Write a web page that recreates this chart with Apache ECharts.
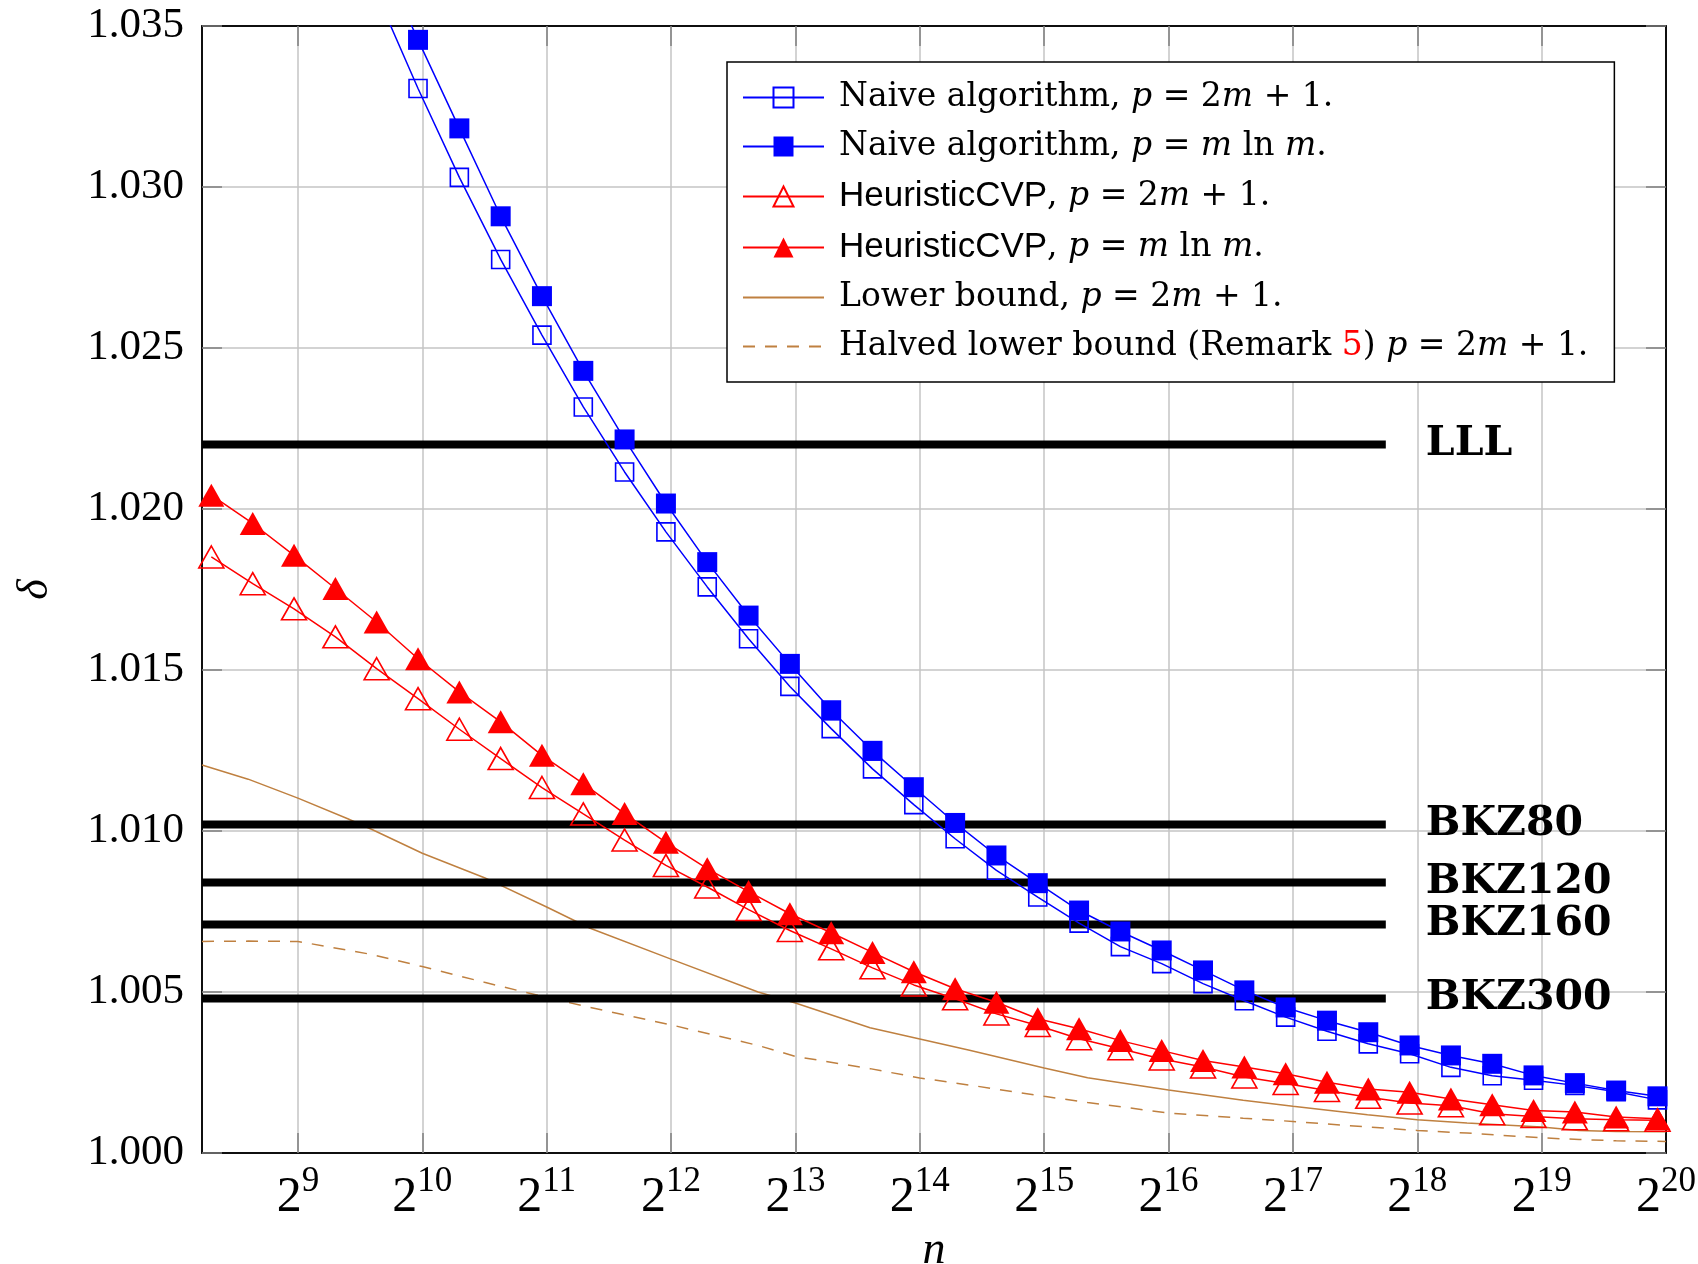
<!DOCTYPE html>
<html>
<head>
<meta charset="utf-8">
<script src="https://cdn.jsdelivr.net/npm/echarts@6/dist/echarts.min.js"></script>
<style>
  html, body { margin: 0; padding: 0; background: #fff; }
  #chart { width: 1698px; height: 1264px; }
</style>
</head>
<body>
<div id="chart"></div>
<script>
// n for the marker series (x axis is log2 n)
const nValues = [316, 398, 501, 631, 794, 1000, 1259, 1585, 1995, 2512, 3162, 3981,
  5012, 6310, 7943, 10000, 12589, 15849, 19953, 25119, 31623, 39811, 50119, 63096,
  79433, 100000, 125893, 158489, 199526, 251189, 316228, 398107, 501187, 630957, 794328, 1000000];

const naive2m1 = [null, null, null, null, 1.0360, 1.03306, 1.03030, 1.02775, 1.02540, 1.02317,
  1.02115, 1.01929, 1.01758, 1.01597, 1.01449, 1.01318, 1.01193, 1.01082, 1.00976, 1.00878,
  1.00795, 1.00714, 1.00641, 1.00588, 1.00526, 1.00473, 1.00422, 1.00378, 1.00339, 1.00308,
  1.00266, 1.00240, 1.00226, 1.00210, 1.00190, 1.00165];
const naiveMlnm = [null, null, null, null, 1.0374, 1.03457, 1.03182, 1.02909, 1.02661, 1.02429,
  1.02216, 1.02017, 1.01835, 1.01669, 1.01519, 1.01375, 1.01249, 1.01136, 1.01025, 1.00924,
  1.00838, 1.00753, 1.00688, 1.00629, 1.00567, 1.00505, 1.00452, 1.00411, 1.00375, 1.00334,
  1.00303, 1.00277, 1.00241, 1.00217, 1.00194, 1.00176];
const heur2m1 = [1.01851, 1.01768, 1.01690, 1.01603, 1.01504, 1.01411, 1.01316, 1.01225, 1.01135,
  1.01053, 1.00972, 1.00893, 1.00826, 1.00756, 1.00691, 1.00634, 1.00575, 1.00522, 1.00479,
  1.00432, 1.00396, 1.00355, 1.00324, 1.00292, 1.00267, 1.00236, 1.00216, 1.00194, 1.00173,
  1.00155, 1.00147, 1.00122, 1.00113, 1.00106, 1.00103, 1.00102];
const heurMlnm = [1.02043, 1.01955, 1.01856, 1.01753, 1.01649, 1.01535, 1.01432, 1.01339, 1.01235,
  1.01147, 1.01054, 1.00965, 1.00883, 1.00812, 1.00743, 1.00684, 1.00623, 1.00563, 1.00510,
  1.00468, 1.00417, 1.00386, 1.00349, 1.00318, 1.00287, 1.00267, 1.00246, 1.00220, 1.00199,
  1.00189, 1.00168, 1.00150, 1.00132, 1.00127, 1.00112, 1.00106];

// n for the two bound curves
const boundN = [300, 388, 512, 676, 776, 1024, 1448, 2048, 2610, 4096, 6654, 8192, 12417, 16384,
  21619, 32768, 41743, 65536, 99334, 131072, 198668, 262144, 345901, 524288, 645685, 794672, 1048576];
const lowerBound = [1.01205, 1.01161, 1.01102, 1.01038, 1.01004, 1.00931, 1.00855, 1.00764, 1.00698,
  1.00602, 1.00500, 1.00466, 1.00389, 1.00354, 1.00319, 1.00264, 1.00234, 1.00196, 1.00164,
  1.00145, 1.00119, 1.00103, 1.00093, 1.00081, 1.00070, 1.00067, 1.00066];
const halvedBound = [1.00657, 1.00658, 1.00657, 1.00630, 1.00616, 1.00579, 1.00530, 1.00483, 1.00452,
  1.00398, 1.00334, 1.00300, 1.00262, 1.00233, 1.00211, 1.00176, 1.00157, 1.00124, 1.00108,
  1.00098, 1.00081, 1.00070, 1.00062, 1.00047, 1.00042, 1.00038, 1.00036];

// reference lines
const refNames = ['LLL', 'BKZ80', 'BKZ120', 'BKZ160', 'BKZ300'];
const refDelta = [1.0220, 1.0102, 1.0084, 1.0071, 1.0048];
const refEndN = 220000;

const nMin = 300, nMax = 1048576;
const xTickExps = [9, 10, 11, 12, 13, 14, 15, 16, 17, 18, 19];
const xLabelExps = [9, 10, 11, 12, 13, 14, 15, 16, 17, 18, 19, 20];

const legendNames = [
  'Naive algorithm, p = 2m + 1.',
  'Naive algorithm, p = m ln m.',
  'HeuristicCVP, p = 2m + 1.',
  'HeuristicCVP, p = m ln m.',
  'Lower bound, p = 2m + 1.',
  'Halved lower bound (Remark 5) p = 2m + 1.'
];
const legendRich = {
  [legendNames[0]]: '{t|Naive algorithm, }{i|p}{t| = 2}{i|m}{t| + 1.}',
  [legendNames[1]]: '{t|Naive algorithm, }{i|p}{t| = }{i|m}{t| ln }{i|m}{t|.}',
  [legendNames[2]]: '{s|HeuristicCVP}{t|, }{i|p}{t| = 2}{i|m}{t| + 1.}',
  [legendNames[3]]: '{s|HeuristicCVP}{t|, }{i|p}{t| = }{i|m}{t| ln }{i|m}{t|.}',
  [legendNames[4]]: '{t|Lower bound, }{i|p}{t| = 2}{i|m}{t| + 1.}',
  [legendNames[5]]: '{t|Halved lower bound (Remark }{r|5}{t|) }{i|p}{t| = 2}{i|m}{t| + 1.}'
};

const BLUE = '#0000ff', RED = '#ff0000', BROWN = '#bf8040';

const pairs = (ns, vs) => ns.map((n, i) => [Math.log2(n), vs[i]]);

function markSeries(name, values, symbol, size, filled, color) {
  return {
    name: name,
    type: 'line',
    data: pairs(nValues, values),
    symbol: symbol,
    symbolSize: size,
    showSymbol: true,
    clip: true,
    lineStyle: { color: color, width: 1.5 },
    itemStyle: filled
      ? { color: color, borderWidth: 0 }
      : { color: 'rgba(255,255,255,0)', borderColor: color, borderWidth: 1.6 },
    z: 5
  };
}

const series = [];
series.push({
  name: legendNames[4], type: 'line', data: pairs(boundN, lowerBound),
  symbol: 'none', itemStyle: { color: BROWN }, lineStyle: { color: BROWN, width: 1.5 }, z: 2
});
series.push({
  name: legendNames[5], type: 'line', data: pairs(boundN, halvedBound),
  symbol: 'none', itemStyle: { color: BROWN }, lineStyle: { color: BROWN, width: 1.5, type: [12, 10] }, z: 2
});
refNames.forEach((nm, i) => {
  series.push({
    name: nm, type: 'line',
    data: [[Math.log2(nMin), refDelta[i]], [Math.log2(refEndN), refDelta[i]]],
    symbol: 'none', lineStyle: { color: '#000', width: 8 }, z: 3,
    endLabel: {
      show: true, formatter: () => nm, distance: 40,
      fontFamily: 'DejaVu Serif', fontWeight: 'bold', fontSize: 41, color: '#000'
    }
  });
});
series.push(markSeries(legendNames[0], naive2m1, 'rect', 18, false, BLUE));
series.push(markSeries(legendNames[1], naiveMlnm, 'rect', 20, true, BLUE));
series.push(markSeries(legendNames[2], heur2m1, 'triangle', [25, 22], false, RED));
series.push(markSeries(legendNames[3], heurMlnm, 'triangle', [26, 23], true, RED));

const legendData = legendNames.map((nm, i) =>
  i < 4 ? { name: nm } : { name: nm, itemStyle: { opacity: 0 } });

const chart = echarts.init(document.getElementById('chart'));
chart.setOption({
  animation: false,
  backgroundColor: '#fff',
  grid: {
    left: 202, right: 32, top: 26, bottom: 111,
    containLabel: false, outerBoundsMode: 'none',
    show: true, borderColor: '#000', borderWidth: 1.5, backgroundColor: 'transparent'
  },
  legend: {
    data: legendData,
    orient: 'vertical',
    left: 727, top: 62,
    padding: [19, 26, 19, 15],
    itemWidth: 81, itemHeight: 25, itemGap: 16,
    backgroundColor: '#fff', borderColor: '#000', borderWidth: 1.5, borderRadius: 0,
    formatter: name => legendRich[name],
    textStyle: {
      padding: [0, 0, 0, 10],
      rich: {
        t: { fontFamily: 'DejaVu Serif', fontSize: 33, color: '#000', lineHeight: 30 },
        i: { fontFamily: 'DejaVu Serif', fontStyle: 'italic', fontSize: 33, color: '#000', lineHeight: 30 },
        s: { fontFamily: 'Liberation Sans', fontSize: 35, color: '#000', lineHeight: 30 },
        r: { fontFamily: 'DejaVu Serif', fontSize: 33, color: RED, lineHeight: 30 }
      }
    }
  },
  xAxis: [{
    type: 'value', position: 'bottom',
    min: Math.log2(nMin), max: Math.log2(nMax),
    name: 'n', nameLocation: 'middle', nameGap: 71,
    nameTextStyle: { fontFamily: 'Liberation Serif', fontStyle: 'italic', fontSize: 46, color: '#000' },
    axisLine: { show: true, lineStyle: { color: '#000', width: 1.5 } },
    axisTick: { show: true, inside: true, length: 20, customValues: xTickExps,
      lineStyle: { color: '#808080', width: 1.5 } },
    splitLine: { show: true, lineStyle: { color: '#c4c4c4', width: 1.5 } },
    axisLabel: {
      customValues: xLabelExps, margin: 11,
      formatter: v => '{b|2}{s|' + Math.round(v) + '}',
      rich: {
        b: { fontFamily: 'Liberation Serif', fontSize: 50, color: '#000', verticalAlign: 'bottom' },
        s: { fontFamily: 'Liberation Serif', fontSize: 35, color: '#000', verticalAlign: 'bottom',
          padding: [0, 0, 24, 0] }
      }
    }
  }, {
    type: 'value', position: 'top',
    min: Math.log2(nMin), max: Math.log2(nMax),
    axisLine: { show: true, lineStyle: { color: '#000', width: 1.5 } },
    axisTick: { show: true, inside: true, length: 20, customValues: xTickExps,
      lineStyle: { color: '#808080', width: 1.5 } },
    splitLine: { show: false },
    axisLabel: { show: false }
  }],
  yAxis: [{
    type: 'value', position: 'left',
    min: 1.0, max: 1.035, interval: 0.005,
    name: 'δ', nameLocation: 'middle', nameGap: 145, nameRotate: 90,
    nameTextStyle: { fontFamily: 'Liberation Serif', fontStyle: 'italic', fontSize: 44, color: '#000' },
    axisLine: { show: true, lineStyle: { color: '#000', width: 1.5 } },
    axisTick: { show: true, inside: true, length: 20, lineStyle: { color: '#808080', width: 1.5 } },
    splitLine: { show: true, showMinLine: false, showMaxLine: false,
      lineStyle: { color: '#c4c4c4', width: 1.5 } },
    axisLabel: {
      margin: 18, formatter: v => v.toFixed(3),
      fontFamily: 'Liberation Serif', fontSize: 43, color: '#000'
    }
  }, {
    type: 'value', position: 'right',
    min: 1.0, max: 1.035, interval: 0.005,
    axisLine: { show: true, lineStyle: { color: '#000', width: 1.5 } },
    axisTick: { show: true, inside: true, length: 20, lineStyle: { color: '#808080', width: 1.5 } },
    splitLine: { show: false },
    axisLabel: { show: false }
  }],
  series: series
});
window.addEventListener('resize', chart.resize);
</script>
</body>
</html>
